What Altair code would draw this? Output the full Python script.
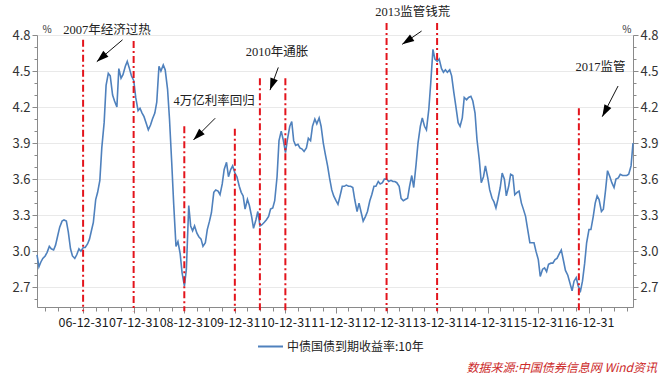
import altair as alt
import pandas as pd

FONT = "Noto Sans CJK SC"
ANN_FONT = "Liberation Serif, Noto Sans CJK SC"
SERIES_NAME = "中债国债到期收益率:10年"
START = "2006-02-01"  # semi-monthly samples (1st and 15th of each month)

YIELDS = [
    2.97, 2.87, 2.91, 2.94, 2.96, 2.99, 3.04, 3.02, 3.01, 3.05, 3.13, 3.20,
    3.25, 3.26, 3.25, 3.16, 3.02, 2.96, 2.94, 2.97, 3.02, 3.00, 3.03, 3.03,
    3.06, 3.10, 3.17, 3.24, 3.43, 3.49, 3.59, 3.86, 4.07, 4.38, 4.48, 4.46,
    4.30, 4.25, 4.20, 4.52, 4.44, 4.47, 4.54, 4.58, 4.52, 4.46, 4.42, 4.28,
    4.17, 4.19, 4.15, 4.12, 4.06, 4.01, 4.05, 4.10, 4.15, 4.24, 4.54, 4.50,
    4.55, 4.51, 4.35, 4.10, 3.74, 3.40, 3.04, 3.08, 2.98, 2.82, 2.71, 2.85,
    3.38, 3.21, 3.17, 3.21, 3.15, 3.12, 3.10, 3.04, 3.07, 3.18, 3.25, 3.32,
    3.49, 3.51, 3.50, 3.47, 3.56, 3.68, 3.74, 3.62, 3.68, 3.71, 3.65, 3.62,
    3.54, 3.49, 3.46, 3.35, 3.43, 3.38, 3.29, 3.19, 3.26, 3.33, 3.21, 3.22,
    3.24, 3.26, 3.29, 3.35, 3.36, 3.42, 3.62, 3.92, 4.00, 3.93, 3.82, 3.93,
    4.04, 4.08, 3.92, 3.88, 3.89, 3.86, 3.85, 3.83, 3.86, 3.94, 3.92, 4.04,
    4.10, 4.06, 4.11, 4.04, 3.90, 3.81, 3.71, 3.61, 3.51, 3.46, 3.42, 3.39,
    3.47, 3.54, 3.54, 3.55, 3.54, 3.54, 3.53, 3.43, 3.33, 3.40, 3.32, 3.25,
    3.29, 3.33, 3.42, 3.47, 3.54, 3.54, 3.58, 3.56, 3.57, 3.60, 3.60, 3.58,
    3.59, 3.58, 3.58, 3.57, 3.54, 3.44, 3.42, 3.43, 3.44, 3.54, 3.63, 3.53,
    3.72, 3.90, 4.04, 4.11, 4.04, 4.01, 4.18, 4.40, 4.68, 4.60, 4.58, 4.60,
    4.52, 4.49, 4.51, 4.49, 4.51, 4.46, 4.32, 4.21, 4.07, 4.04, 4.11, 4.28,
    4.26, 4.28, 4.29, 4.25, 4.15, 3.93, 3.76, 3.57, 3.62, 3.71, 3.61, 3.51,
    3.44, 3.41, 3.36, 3.43, 3.53, 3.65, 3.60, 3.46, 3.54, 3.64, 3.63, 3.47,
    3.49, 3.50, 3.40, 3.35, 3.29, 3.19, 3.07, 3.07, 3.07, 3.00, 2.93, 2.79,
    2.85, 2.86, 2.83, 2.89, 2.90, 2.90, 2.93, 2.94, 2.98, 3.01, 2.92, 2.84,
    2.80, 2.74, 2.67, 2.75, 2.78, 2.71, 2.67, 2.75, 2.90, 3.07, 3.18, 3.18,
    3.29, 3.40, 3.46, 3.43, 3.33, 3.35, 3.51, 3.67, 3.62, 3.57, 3.53, 3.60,
    3.61, 3.64, 3.63, 3.63, 3.63, 3.64, 3.71, 3.90,
]

EVENT_DATES = ["2006-12-31", "2007-12-31", "2008-12-31", "2009-12-31", "2010-06-30",
               "2010-12-31", "2012-12-31", "2013-12-31", "2016-10-20"]
EVENT_TOPS = [4.76, 4.75, 4.04, 4.02, 4.44, 4.44, 4.90, 4.90, 4.19]

ANN_TEXT = ["2007年经济过热", "4万亿利率回归", "2010年通胀", "2013监管钱荒", "2017监管"]
ANN_TEXT_DATE = ["2007-06-22", "2009-08-03", "2010-11-01", "2013-07-09", "2017-03-26"]
ANN_TEXT_VAL = [4.84, 4.25, 4.656, 4.99, 4.53]
ARROW_TAIL_DATE = ["2007-10-12", "2009-08-11", "2010-11-10", "2013-09-10", "2017-07-30"]
ARROW_TAIL_VAL = [4.76, 4.107, 4.53, 4.833, 4.375]
ARROW_HEAD_DATE = ["2007-04-09", "2009-03-07", "2010-09-11", "2013-04-23", "2017-04-07"]
ARROW_HEAD_VAL = [4.578, 3.926, 4.341, 4.722, 4.12]
ARROW_ANGLE = [229, 225, 200, 236, 208]

Y_TICKS = [2.6, 2.7, 2.8, 2.9, 3.0, 3.1, 3.2, 3.3, 3.4, 3.5, 3.6, 3.7, 3.8, 3.9,
           4.0, 4.1, 4.2, 4.3, 4.4, 4.5, 4.6, 4.7, 4.8]
TICK_YEARS = list(range(2006, 2018))
QUARTER_ENDS = [(3, 31), (6, 30), (9, 30), (12, 31)]

SOURCE = ["数据来源:中国债券信息网  Wind资讯"]

# ---------------------------------------------------------------------------
dates = pd.date_range(START, periods=len(YIELDS), freq="SMS").strftime("%Y-%m-%d")
df = pd.DataFrame({"date": dates, "val": YIELDS, "series": SERIES_NAME})
ev = pd.DataFrame({"date": EVENT_DATES, "val": EVENT_TOPS})
ann = pd.DataFrame({"date": ANN_TEXT_DATE, "val": ANN_TEXT_VAL, "text": ANN_TEXT})
arr = pd.DataFrame({"date": ARROW_TAIL_DATE, "val": ARROW_TAIL_VAL,
                    "date2": ARROW_HEAD_DATE, "val2": ARROW_HEAD_VAL,
                    "angle": ARROW_ANGLE})
src = pd.DataFrame({"text": SOURCE})

x_ticks = [alt.DateTime(year=y, month=m, date=d, utc=True)
           for y in TICK_YEARS for (m, d) in QUARTER_ENDS
           if not (y == TICK_YEARS[-1] and m == 12)]

AX = "#8a8a8a"
x_scale = alt.Scale(type="utc", domain=[alt.DateTime(year=2006, month=2, date=1, utc=True),
                                        alt.DateTime(year=2017, month=11, date=15, utc=True)])
y_scale = alt.Scale(domain=[2.535, 4.8], nice=False, zero=False)

x_axis = alt.Axis(values=x_ticks, format="%y-%m-%d",
                  labelExpr="utcmonth(datum.value)==11 ? datum.label : ''",
                  labelOverlap=False, labelFlush=False, grid=False, title=None,
                  tickSize={"condition": {"test": {"field": "value", "timeUnit": "utcmonth",
                                                   "equal": 12}, "value": 6}, "value": 4},
                  domainColor=AX, tickColor=AX, labelColor="#1a1a1a", labelFontSize=12.5,
                  labelPadding=3, labelFont=FONT)

major = "round(datum.value*10)%3==0"

def y_axis(orient, grid):
    return alt.Axis(orient=orient, values=Y_TICKS, format=".1f",
                    labelExpr=f"{major} ? datum.label : ''", labelOverlap=False,
                    labelFlush=False,
                    tickSize={"condition": {"test": major, "value": 5}, "value": 3},
                    grid=grid, gridColor="#e9e9e9",
                    gridOpacity={"condition": {"test": major, "value": 1}, "value": 0},
                    domainColor=AX, tickColor=AX, labelColor="#333", labelFontSize=13,
                    labelPadding=2, labelFont=FONT,
                    title="%", titleAngle=0, titleFontSize=10, titleFontWeight="normal",
                    titleColor="#333", titleBaseline="bottom",
                    titleAlign="left" if orient == "left" else "right",
                    titleX=5 if orient == "left" else -2, titleY=-1)

line = alt.Chart(df).mark_line(strokeWidth=1.6).encode(
    x=alt.X("date:T", scale=x_scale, axis=x_axis),
    y=alt.Y("val:Q", scale=y_scale, axis=y_axis("left", True)),
    color=alt.Color("series:N", scale=alt.Scale(range=["#4f81bd"]),
                    legend=alt.Legend(orient="none", legendX=220, legendY=298, title=None,
                                      symbolType="stroke", symbolSize=625,
                                      symbolStrokeWidth=2, labelFontSize=12,
                                      labelFont=FONT, labelColor="#222", labelOffset=3)),
)

line_right = alt.Chart(df).mark_line(opacity=0).encode(
    x=alt.X("date:T", scale=x_scale, axis=x_axis),
    y=alt.Y("val:Q", scale=y_scale, axis=y_axis("right", False)),
)

events = alt.Chart(ev).mark_rule(color="#e3141c", strokeWidth=2,
                                 strokeDash=[7, 3, 2, 3]).encode(
    x=alt.X("date:T", scale=x_scale, axis=x_axis),
    y=alt.Y("val:Q", scale=y_scale, axis=None),
    y2=alt.datum(2.50),
)

arrows = alt.Chart(arr).mark_rule(color="#111", strokeWidth=1).encode(
    x=alt.X("date:T", scale=x_scale, axis=x_axis),
    y=alt.Y("val:Q", scale=y_scale, axis=None),
    x2="date2:T",
    y2="val2:Q",
)

heads = alt.Chart(arr).mark_point(shape="M0,0L0.65,2L-0.65,2Z", filled=True,
                                  color="#000", opacity=1, size=144, strokeWidth=0).encode(
    x=alt.X("date2:T", scale=x_scale, axis=x_axis),
    y=alt.Y("val2:Q", scale=y_scale, axis=None),
    angle=alt.Angle("angle:Q", scale=None),
)

labels = alt.Chart(ann).mark_text(font=ANN_FONT, fontSize=12.5, color="#222",
                                  align="center", baseline="middle").encode(
    x=alt.X("date:T", scale=x_scale, axis=x_axis),
    y=alt.Y("val:Q", scale=y_scale, axis=None),
    text="text:N",
)

# footnote (source line) placed in the bottom margin
source = alt.Chart(src).mark_text(font=FONT, fontSize=12, fontStyle="italic",
                                  color="#cc2a2a", align="right", baseline="middle").encode(
    x=alt.value(620), y=alt.value(333), text="text:N",
)

chart = alt.layer(line, events, line_right, arrows, heads, labels, source).resolve_axis(
    y="independent"
).properties(
    width=596, height=272,
    autosize=alt.AutoSizeParams(type="none"),
    padding={"left": 37, "top": 35, "right": 38, "bottom": 69},
).configure_view(stroke=None).configure(font=FONT, background="white")

chart.save("out.html", embed_options={"renderer": "svg", "actions": False})
